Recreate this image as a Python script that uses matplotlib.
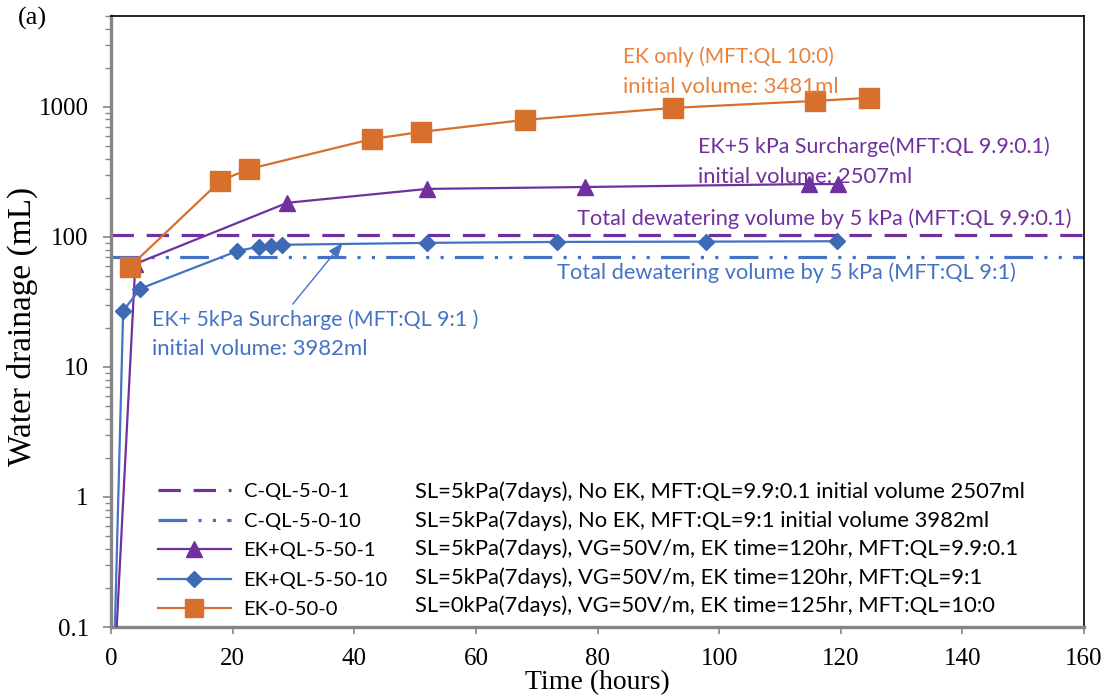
import matplotlib
matplotlib.use("Agg")
import matplotlib.pyplot as plt
from matplotlib.lines import Line2D
from matplotlib.ticker import LogLocator, NullFormatter, FixedLocator, FixedFormatter

# ---- data -------------------------------------------------------------
t_ek_only = [3.1, 18, 22.7, 43, 51, 68, 92.4, 115.8, 124.6]
v_ek_only = [59, 270, 333, 567, 642, 794, 982, 1112, 1173]

t_ek_ql1 = [0, 4, 29, 52, 78, 114.8, 119.6]
v_ek_ql1 = [0.014, 62, 183, 234, 242, 255, 255]

t_ek_ql10 = [0, 2, 4.8, 20.8, 24.3, 26.3, 28.2, 51.9, 73.4, 97.9, 119.4]
v_ek_ql10 = [0.007, 27, 40, 78, 84, 85, 87, 90, 91.5, 92, 92.6]

c_ql1_total = 104     # C-QL-5-0-1 total dewatering volume (mL)
c_ql10_total = 70     # C-QL-5-0-10 total dewatering volume (mL)

legend_labels = ["C-QL-5-0-1", "C-QL-5-0-10", "EK+QL-5-50-1",
                 "EK+QL-5-50-10", "EK-0-50-0"]
condition_notes = [
    "SL=5kPa(7days), No EK, MFT:QL=9.9:0.1 initial volume 2507ml",
    "SL=5kPa(7days), No EK, MFT:QL=9:1 initial volume 3982ml",
    "SL=5kPa(7days), VG=50V/m, EK time=120hr, MFT:QL=9.9:0.1",
    "SL=5kPa(7days), VG=50V/m, EK time=120hr, MFT:QL=9:1",
    "SL=0kPa(7days), VG=50V/m, EK time=125hr, MFT:QL=10:0",
]
x_ticks = [0, 20, 40, 60, 80, 100, 120, 140, 160]
y_ticks = [0.1, 1, 10, 100, 1000]
y_tick_labels = ["0.1", "1", "10", "100", "1000"]

# ---- style -------------------------------------------------------------
ORANGE = "#D7702C"
ORANGE_TXT = "#E8823D"
PURPLE = "#7030A0"
BLUE = "#4472C4"
BLUE_MK = "#3D69B5"
SERIF = "Liberation Serif"
SANS = "Lato"
W, H = 1107, 698
AX_L, AX_R, AX_T, AX_B = 111, 1084, 16, 627

fig = plt.figure(figsize=(W / 100, H / 100), dpi=100)
ax = fig.add_axes([AX_L / W, 1 - AX_B / H, (AX_R - AX_L) / W, (AX_B - AX_T) / H])

ax.set_yscale("log")
ax.set_xlim(0, 160)
ax.set_ylim(0.1, 5000)

dash_purple = (0, (7, 4))
dash_blue = (0, (9, 3.5, 1, 3.5, 1, 3.5))

ax.axhline(c_ql1_total, color=PURPLE, lw=2.3, linestyle=dash_purple, zorder=2)
ax.axhline(c_ql10_total, color=BLUE, lw=2.3, linestyle=dash_blue, zorder=2)

ax.plot(t_ek_ql1, v_ek_ql1, color=PURPLE, lw=1.6, marker="^", ms=11,
        mfc=PURPLE, mec=PURPLE, zorder=4)
ax.plot(t_ek_ql10, v_ek_ql10, color=BLUE, lw=1.6, marker="D", ms=8,
        mfc=BLUE_MK, mec=BLUE_MK, zorder=4)
ax.plot(t_ek_only, v_ek_only, color=ORANGE, lw=1.6, marker="s", ms=14,
        mfc=ORANGE, mec=ORANGE, zorder=5)

# ---- axes styling ------------------------------------------------------
for side in ("left", "bottom"):
    ax.spines[side].set_color("#868686")
    ax.spines[side].set_linewidth(2.4)
for side in ("top", "right"):
    ax.spines[side].set_color("black")
    ax.spines[side].set_linewidth(1.2)

ax.xaxis.set_major_locator(FixedLocator(x_ticks))
ax.yaxis.set_major_locator(FixedLocator(y_ticks))
ax.yaxis.set_major_formatter(FixedFormatter(y_tick_labels))
ax.yaxis.set_minor_locator(LogLocator(base=10, subs=range(2, 10), numticks=20))
ax.yaxis.set_minor_formatter(NullFormatter())
ax.tick_params(axis="both", which="major", direction="out",
               width=1.2, color="#868686", labelsize=18)
ax.tick_params(axis="x", which="major", length=5, pad=10)
ax.tick_params(axis="y", which="major", length=6, pad=10)
ax.tick_params(axis="y", which="minor", direction="out", length=4,
               width=1.0, color="#868686")
for lab in ax.get_xticklabels() + ax.get_yticklabels():
    lab.set_fontfamily(SERIF)

ax.set_xlabel("Time (hours)", fontfamily=SERIF, fontsize=20)
ax.xaxis.set_label_coords(0.5, (AX_B - 670) / (AX_B - AX_T))
ax.set_ylabel("Water drainage (mL)", fontfamily=SERIF, fontsize=24)
ax.yaxis.set_label_coords((38 - AX_L) / (AX_R - AX_L), (AX_B - 326) / (AX_B - AX_T))

fig.text(18 / W, 1 - 18 / H, "(a)", fontfamily=SERIF, fontsize=19,
         va="center", ha="left")

fig.canvas.draw()
renderer = fig.canvas.get_renderer()


def axpos(px, py):
    return ((px - AX_L) / (AX_R - AX_L), (AX_B - py) / (AX_B - AX_T))


def note(px, py, s, color, width_px, size=14):
    """Place a left-aligned note and size it to span width_px pixels."""
    x, y = axpos(px, py)
    t = ax.text(x, y, s, transform=ax.transAxes, color=color, fontsize=size,
                fontfamily=SANS, va="center", ha="left", zorder=6)
    w = t.get_window_extent(renderer).width
    t.set_fontsize(size * width_px / w)
    return t


note(623, 57, "EK only (MFT:QL 10:0)", ORANGE_TXT, 212)
note(623, 87, "initial volume: 3481ml", ORANGE_TXT, 217)
note(698, 147, "EK+5 kPa Surcharge(MFT:QL 9.9:0.1)", PURPLE, 352)
note(698, 177, "initial volume: 2507ml", PURPLE, 215)
note(577, 219, "Total dewatering volume by 5 kPa (MFT:QL 9.9:0.1)", PURPLE, 496)
note(557, 273, "Total dewatering volume by 5 kPa (MFT:QL 9:1)", BLUE, 460)
note(152, 320, "EK+ 5kPa Surcharge (MFT:QL 9:1 )", BLUE, 327)
note(152, 349, "initial volume: 3982ml", BLUE, 216)

# arrow from the blue note to the EK+QL-5-50-10 curve
ax.annotate("", xy=(38.1, 90), xytext=(29.9, 30.5),
            arrowprops=dict(arrowstyle="-|>,head_length=0.9,head_width=0.35",
                            color=BLUE, lw=1.0, shrinkA=0, shrinkB=0),
            zorder=6)

# ---- legend ------------------------------------------------------------
handles = [
    Line2D([], [], color=PURPLE, lw=2.3, linestyle=dash_purple),
    Line2D([], [], color=BLUE, lw=2.3, linestyle=dash_blue),
    Line2D([], [], color=PURPLE, lw=1.6, marker="^", ms=11),
    Line2D([], [], color=BLUE, lw=1.6, marker="D", ms=8, mfc=BLUE_MK, mec=BLUE_MK),
    Line2D([], [], color=ORANGE, lw=1.6, marker="s", ms=13),
]
lx, ly = axpos(158, 483)
leg = ax.legend(handles, legend_labels, loc="upper left", bbox_to_anchor=(lx, ly),
                frameon=False, handlelength=3.6, handletextpad=0.65,
                labelspacing=0.62, borderaxespad=0, borderpad=0,
                prop={"family": SANS, "size": 14.5})

# condition descriptions, one per legend row, sharing one font size
first = note(415, 492, condition_notes[0], "black", 612)
size_notes = first.get_fontsize()
for i, s in enumerate(condition_notes[1:], start=1):
    x, y = axpos(415, 492 + i * 28.5)
    ax.text(x, y, s, transform=ax.transAxes, color="black", fontsize=size_notes,
            fontfamily=SANS, va="center", ha="left", zorder=6)

fig.savefig("out.png", dpi=100)
